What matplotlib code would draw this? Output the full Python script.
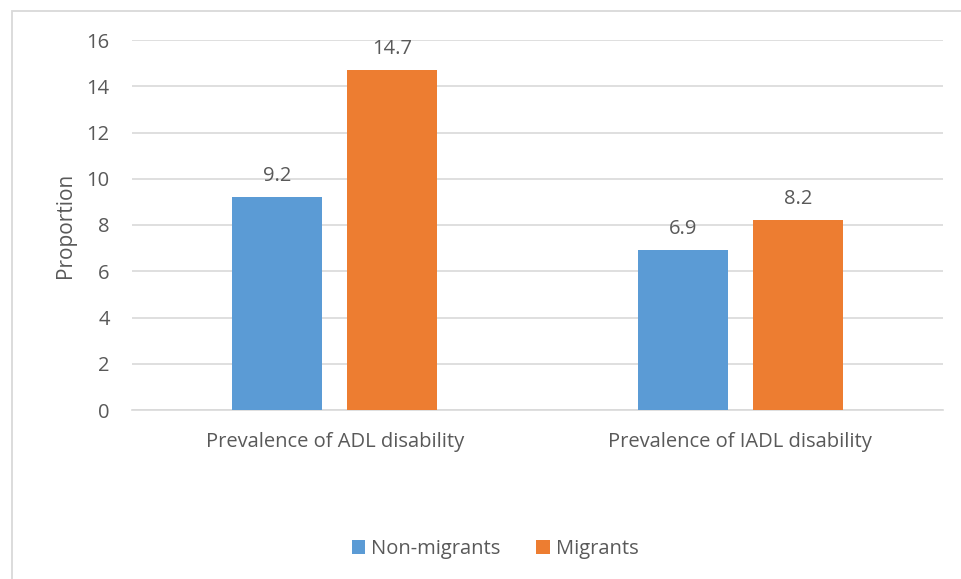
import matplotlib
matplotlib.use("Agg")
import matplotlib.pyplot as plt
from matplotlib.patches import Rectangle
import numpy as np

categories = ["Prevalence of ADL disability", "Prevalence of IADL disability"]
series_names = ["Non-migrants", "Migrants"]
non_migrants = [9.2, 6.9]
migrants = [14.7, 8.2]
yticks = [0, 2, 4, 6, 8, 10, 12, 14, 16]

plt.rcParams['font.family'] = ['Open Sans', 'DejaVu Sans']
TXT = '#595959'
GRID = '#D9D9D9'
BLUE = '#5B9BD5'
ORANGE = '#ED7D31'
FS = 14.5

W, H = 961, 579
fig = plt.figure(figsize=(W / 100, H / 100), dpi=100)

# outer chart border (left/top visible)
fig.patches.append(Rectangle((12 / W, -0.01), 1.05, (H - 11) / H + 0.01,
                             transform=fig.transFigure, fill=False,
                             edgecolor=GRID, linewidth=1.3))

ax = fig.add_axes([132 / W, 1 - 410 / H, (943 - 132) / W, (410 - 40) / H])

x = np.arange(len(categories))
bw = 0.222
gap = 0.0617
off = (bw + gap) / 2
b1 = ax.bar(x - off, non_migrants, bw, color=BLUE, label=series_names[0], zorder=3)
b2 = ax.bar(x + off, migrants, bw, color=ORANGE, label=series_names[1], zorder=3)

for bars, vals in ((b1, non_migrants), (b2, migrants)):
    for r, v in zip(bars, vals):
        ax.annotate(f"{v}", (r.get_x() + r.get_width() / 2, v),
                    xytext=(0, 8), textcoords='offset points',
                    ha='center', va='bottom', fontsize=FS, color=TXT)

ax.set_xlim(-0.5, 1.5)
ax.set_ylim(0, 16)
ax.set_yticks(yticks)
ax.set_yticklabels([str(t) for t in yticks], fontsize=FS, color=TXT)
ax.set_xticks(x)
ax.set_xticklabels(categories, fontsize=FS, color=TXT)
ax.tick_params(axis='both', length=0)
ax.tick_params(axis='y', pad=16)
ax.tick_params(axis='x', pad=16)
ax.grid(axis='y', color=GRID, linewidth=1.2, zorder=0)
for s in ['top', 'right', 'left']:
    ax.spines[s].set_visible(False)
ax.spines['bottom'].set_color(GRID)
ax.spines['bottom'].set_linewidth(1.2)
ax.set_ylabel("Proportion", fontsize=15, color=TXT, labelpad=8)

leg = fig.legend(handles=[b1, b2], labels=series_names, loc='center',
                 bbox_to_anchor=(495 / W, 1 - 549 / H), ncol=2, frameon=False,
                 fontsize=FS, handlelength=0.65, handleheight=0.65,
                 handletextpad=0.3, columnspacing=1.8)
for t in leg.get_texts():
    t.set_color(TXT)

fig.savefig("out.png", dpi=100)
